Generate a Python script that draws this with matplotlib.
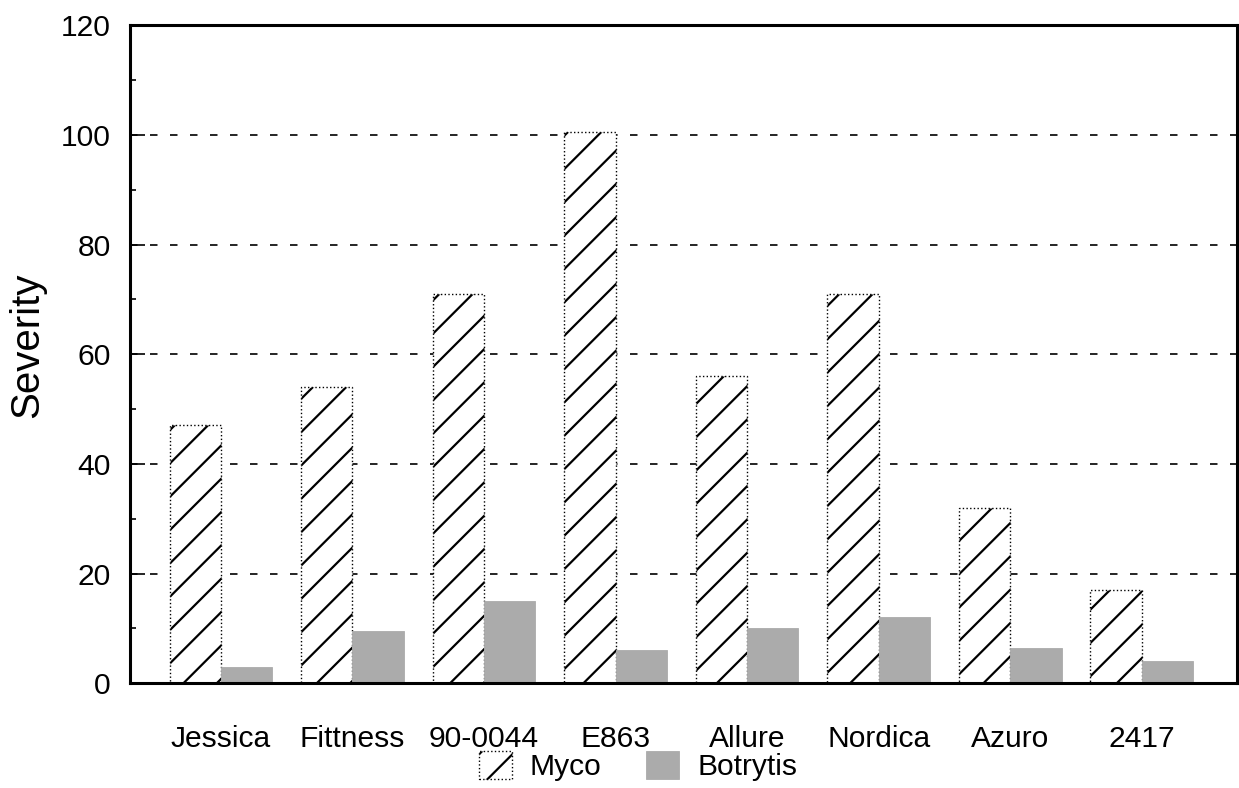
import numpy as np
import matplotlib
matplotlib.use("Agg")
import matplotlib.pyplot as plt
from matplotlib.ticker import MultipleLocator

# values
cultivars = ["Jessica", "Fittness", "90-0044", "E863", "Allure", "Nordica", "Azuro", "2417"]
myco = [47, 54, 71, 100.5, 56, 71, 32, 17]
botrytis = [3, 9.5, 15, 6, 10, 12, 6.5, 4]

plt.rcParams['font.family'] = ['Liberation Sans', 'DejaVu Sans']
plt.rcParams['hatch.linewidth'] = 0.8

# high dpi so the hatch lines come out as widely spaced as on the scan
fig = plt.figure(figsize=(6.195, 3.94), dpi=200)
ax = fig.add_axes([0.105, 0.133, 0.893, 0.835])

x = np.arange(len(cultivars))
w = 0.39

ax.bar(x - w / 2, myco, width=w, facecolor='white', edgecolor='black',
       linestyle=':', linewidth=0.5, hatch='//', label='Myco', zorder=2)
ax.bar(x + w / 2, botrytis, width=w, color='#ababab', edgecolor='#ababab',
       linewidth=0.3, label='Botrytis', zorder=2)

ax.set_ylim(0, 120)
ax.set_xlim(-0.69, 7.72)
ax.yaxis.set_major_locator(MultipleLocator(20))
ax.yaxis.set_minor_locator(MultipleLocator(10))
ax.set_xticks(x)
ax.set_xticklabels(cultivars)

for yv in range(20, 120, 20):
    ax.axhline(yv, color='black', linewidth=0.6, linestyle=(0, (4.5, 7.5)), zorder=1)

ax.tick_params(axis='y', which='major', direction='in', length=5.5, width=0.6,
               labelsize=10.8, pad=7)
ax.tick_params(axis='y', which='minor', direction='in', length=2, width=0.6)
ax.tick_params(axis='x', length=0, labelsize=10.8, pad=15)

for s in ax.spines.values():
    s.set_linewidth(1.1)

ax.set_ylabel('Severity', fontsize=14.5)
ax.yaxis.set_label_coords(-0.093, 0.514)
ax.yaxis.label.set_va('center')

fig.legend(loc='center', bbox_to_anchor=(0.515, 0.028), ncol=2, frameon=False,
           fontsize=10.8, handlelength=1.1, handleheight=1.1, columnspacing=1.5,
           handletextpad=0.6, borderpad=0)

fig.savefig('out.png', dpi=200)
